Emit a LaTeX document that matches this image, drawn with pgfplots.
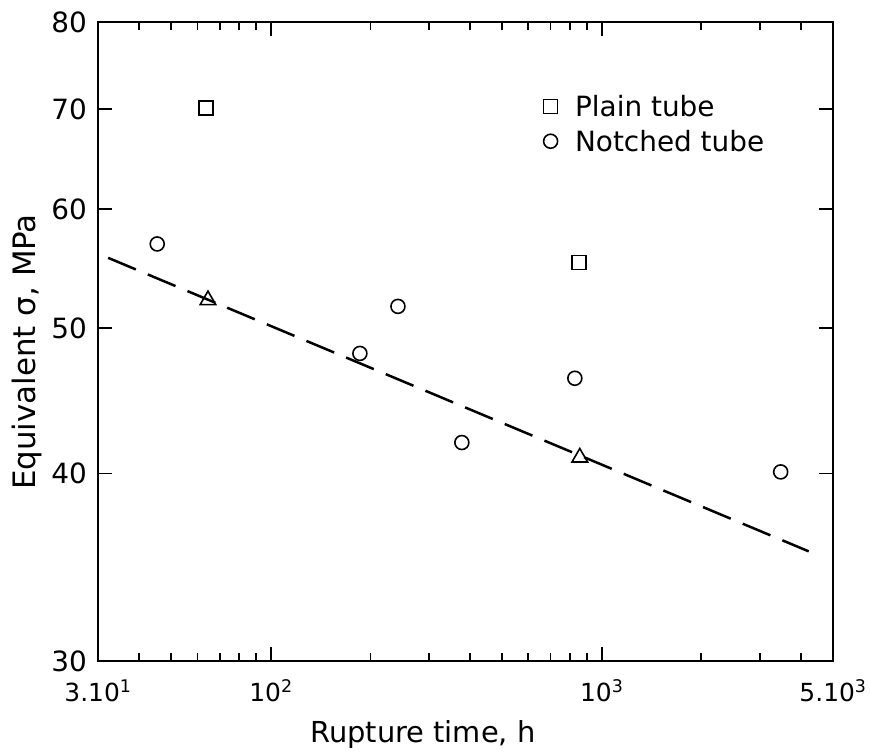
\documentclass[border=0pt]{standalone}
\usepackage{pgfplots}
\pgfplotsset{compat=1.18}
\usepackage{fontspec}
\setmainfont{DejaVu Sans}
\begin{document}
\begin{tikzpicture}
\useasboundingbox (-98bp,-91bp) rectangle (772bp,661bp);
\begin{axis}[
  scale only axis, width=735bp, height=639bp,
  xmode=log, ymode=log,
  xmin=30, xmax=5000, ymin=30, ymax=80,
  axis line style={line width=2.2bp},
  every tick/.style={black, line width=1.8bp},
  major tick length=14bp, minor tick length=8bp,
  tick align=inside,
  xtick={30,100,1000,5000},
  xticklabels={3.10\textsuperscript{1},10\textsuperscript{2},10\textsuperscript{3},5.10\textsuperscript{3}},
  minor xtick={40,50,60,70,80,90,200,300,400,500,600,700,800,900,2000,3000,4000},
  ytick={30,40,50,60,70,80},
  yticklabels={30,40,50,60,70,80},
  minor ytick={},
  yticklabel style={anchor=east, inner sep=0pt, xshift=-11bp, font=\fontsize{28}{32}\selectfont},
  xticklabel style={anchor=base, inner sep=0pt, yshift=-41bp, font=\fontsize{25}{30}\selectfont},
  xlabel={Rupture time, h},
  ylabel={Equivalent σ, MPa},
  every axis x label/.style={at={(axis description cs:0.442,0)}, anchor=base, yshift=-82bp, inner sep=0pt, font=\fontsize{29}{32}\selectfont},
  every axis y label/.style={at={(axis description cs:0,0.4836)}, xshift=-86bp, rotate=90, anchor=north, inner sep=0pt, font=\fontsize{31}{34}\selectfont},
  legend style={draw=none, fill=none, at={(0.606,0.8904)}, anchor=north west, inner sep=0pt,
    font=\fontsize{28}{32}\selectfont, row sep=6bp, column sep=14.5bp, nodes={inner sep=3bp}},
  legend cell align=left,
]
\addplot[only marks, mark=square, mark size=7bp, line width=1.6bp] coordinates {
  (63.6,70.1) (852,55.3)
};
\addlegendentry{Plain tube}
\addplot[only marks, mark=o, mark size=7bp, line width=1.6bp] coordinates {
  (45.3,56.9) (242,51.7) (185.7,48.1) (377.6,41.95) (829,46.3) (3474,40.1)
};
\addlegendentry{Notched tube}
\addplot[only marks, mark=triangle, mark size=9bp, line width=1.6bp, forget plot] coordinates {
  (64.5,52.2) (858,41.0)
};
\addplot[dash pattern=on 30bp off 13bp, line width=2.5bp, forget plot] coordinates {
  (32.2,55.7) (4222,35.5)
};
\end{axis}
\end{tikzpicture}
\end{document}
